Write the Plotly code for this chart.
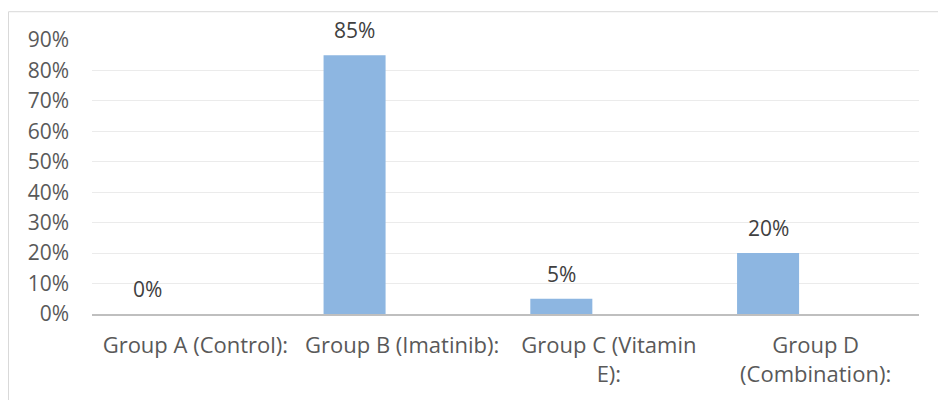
import plotly.graph_objects as go

categories = ["Group A (Control):", "Group B (Imatinib):", "Group C (Vitamin<br>E):", "Group D<br>(Combination):"]
values = [0.0, 0.85, 0.05, 0.20]
value_labels = ["0%", "85%", "5%", "20%"]

BAR_COLOR = "#8DB6E1"
FONT = "Open Sans"
BAR_WIDTH = 0.30
BAR_OFFSET = -0.38

fig = go.Figure()
fig.add_trace(go.Bar(
    x=categories, y=values,
    width=BAR_WIDTH, offset=BAR_OFFSET,
    marker=dict(color=BAR_COLOR, line=dict(width=0)),
    hoverinfo="skip",
))

for i, (v, t) in enumerate(zip(values, value_labels)):
    fig.add_annotation(
        x=i + BAR_OFFSET + BAR_WIDTH / 2, y=v, xref="x", yref="y",
        text=t, showarrow=False, yanchor="bottom", yshift=9,
        font=dict(family=FONT, size=21, color="#404040"),
    )

W, H = 938, 400
L, R, T, B = 92, 19, 40, 84
pw, ph = W - L - R, H - T - B

def px_x(p):
    return (p - L) / pw

def px_y(p):
    return (H - B - p) / ph

fig.add_shape(type="rect", xref="paper", yref="paper",
              x0=px_x(8.5), x1=px_x(945), y0=px_y(11.5), y1=px_y(410),
              line=dict(color="#D9D9D9", width=1), fillcolor="rgba(0,0,0,0)", layer="below")

fig.update_layout(
    width=W, height=H,
    margin=dict(l=L, r=R, t=T, b=B),
    paper_bgcolor="white", plot_bgcolor="white",
    showlegend=False,
    font=dict(family=FONT, size=21, color="#595959"),
    xaxis=dict(
        type="category", range=[-0.5, 3.5],
        showline=True, linecolor="#BFBFBF", linewidth=2,
        showgrid=False, ticks="", ticklabelstandoff=11,
        tickfont=dict(family=FONT, size=22, color="#595959"),
    ),
    yaxis=dict(
        range=[0, 0.9], dtick=0.1, tickformat=".0%",
        showgrid=True, gridcolor="#EBEBEB", gridwidth=1,
        zeroline=False, showline=False, ticks="",
        ticklabelstandoff=22,
        tickfont=dict(family=FONT, size=21, color="#595959"),
    ),
)

fig.write_html("out.html")
